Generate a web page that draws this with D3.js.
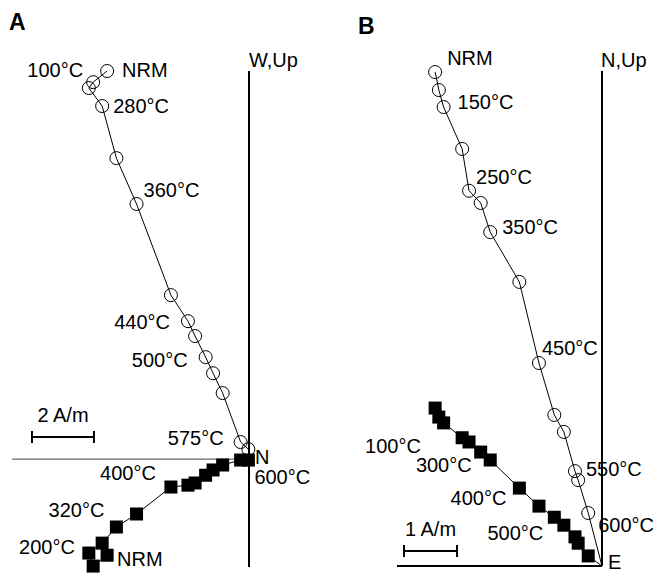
<!DOCTYPE html>
<html>
<head>
<meta charset="utf-8">
<script src="https://cdn.jsdelivr.net/npm/d3@7"></script>
<style>
	body { margin: 0; background: #fff; }
	svg text { font-family: "Liberation Sans", Arial, sans-serif; fill: #000; }
</style>
</head>
<body>
<div id="chart"></div>
<script>
// Demagnetisation steps (blank = step not labelled in the figure)
const stepsA = ["NRM", "100°C", "200°C", "280°C", "320°C", "360°C", "400°C",
	"440°C", "", "500°C", "", "", "575°C", "600°C"];
// Panel A components, A/m
const northA = [-4.58, -5.03, -5.17, -4.74, -4.28, -3.63, -2.52, -1.97, -1.74, -1.40, -1.16, -0.85, -0.27, -0.02];
const westA  = [-3.10, -3.45, -3.03, -2.71, -2.19, -1.77, -0.90, -0.84, -0.77, -0.52, -0.35, -0.19, -0.03, -0.03];
const upA    = [12.52, 12.16, 11.97, 11.39, 9.71, 8.23, 5.29, 4.45, 3.97, 3.29, 2.77, 2.13, 0.55, 0.32];

const stepsB = ["NRM", "100°C", "150°C", "", "250°C", "300°C", "350°C", "400°C",
	"450°C", "500°C", "", "550°C", "", "600°C"];
// Panel B components, A/m
const eastB  = [-3.15, -3.08, -2.99, -2.64, -2.51, -2.29, -2.11, -1.56, -1.19, -0.90, -0.72, -0.51, -0.45, -0.26];
const northB = [2.98, 2.81, 2.70, 2.42, 2.34, 2.15, 2.00, 1.47, 1.13, 0.92, 0.77, 0.55, 0.43, 0.19];
const upB    = [9.32, 8.98, 8.66, 7.87, 7.08, 6.85, 6.30, 5.36, 3.83, 2.85, 2.53, 1.79, 1.62, 1.00];

// Label placement: [step index, projection ("h" squares / "v" circles), anchor, dx, dy]
const labelsA = [
	[0, "v", "start", 15, -1], [1, "v", "end", -10, -12], [3, "v", "start", 11, 0],
	[5, "v", "start", 7, -14], [7, "v", "end", -18, 1], [9, "v", "end", -18, 3],
	[12, "v", "end", -17, -4], [13, "h", "start", 6, 17], [6, "h", "end", -15, -14],
	[4, "h", "end", -12, -17], [2, "h", "end", -14, -6], [0, "h", "start", 10, 4]
];
const labelsB = [
	[0, "v", "start", 12, -14], [2, "v", "start", 14, -5], [4, "v", "start", 7, -14],
	[6, "v", "start", 12, -5], [8, "v", "start", 3, -15], [11, "v", "start", 11, -2],
	[13, "v", "start", 10, 12], [1, "h", "end", -18, 29], [5, "h", "end", -9, 13],
	[7, "h", "end", -13, 10], [9, "h", "end", -11, 16]
];

const width = 655, height = 574;
const svg = d3.select("#chart").append("svg")
	.attr("width", width).attr("height", height);

/*
 - p: panel settings (scales, data, labels, axis names)
*/
function drawPanel(p) {
	const g = svg.append("g");
	const x = d3.scaleLinear(p.domainX, p.rangeX),
		y = d3.scaleLinear(p.domainY, p.rangeY);

	const hData = p.steps.map((s, i) => ({ i, x: p.xs[i], y: p.hs[i] })),
		vData = p.steps.map((s, i) => ({ i, x: p.xs[i], y: p.vs[i] }));

	// Axes (plain lines through the origin)
	g.append("line")
		.attr("x1", x(p.domainX[0])).attr("x2", x(0))
		.attr("y1", y(0)).attr("y2", y(0))
		.attr("stroke", p.hAxisColor).attr("stroke-width", p.hAxisWidth);
	g.append("line")
		.attr("x1", x(0)).attr("x2", x(0))
		.attr("y1", y(p.domainY[0])).attr("y2", y(p.domainY[1]))
		.attr("stroke", "#000").attr("stroke-width", 2);

	const line = d3.line().x((d) => x(d.x)).y((d) => y(d.y));
	const origin = { x: 0, y: 0 };
	[hData, vData].forEach((data) => {
		g.append("path")
			.datum(data.concat([origin]))
			.attr("d", line)
			.attr("fill", "none").attr("stroke", "#000").attr("stroke-width", 1);
	});

	const sq = 13;
	g.selectAll("rect.h").data(hData).join("rect")
		.classed("h", true)
		.attr("x", (d) => x(d.x) - sq / 2).attr("y", (d) => y(d.y) - sq / 2)
		.attr("width", sq).attr("height", sq).attr("fill", "#000");

	g.selectAll("circle.v").data(vData).join("circle")
		.classed("v", true)
		.attr("cx", (d) => x(d.x)).attr("cy", (d) => y(d.y)).attr("r", 6.5)
		.attr("fill", "none").attr("stroke", "#000").attr("stroke-width", 1);

	// Step labels
	g.selectAll("text.step").data(p.labels).join("text")
		.classed("step", true)
		.attr("x", (d) => x(p.xs[d[0]]) + d[3])
		.attr("y", (d) => y((d[1] === "h" ? p.hs : p.vs)[d[0]]) + d[4])
		.attr("dy", "0.35em")
		.attr("text-anchor", (d) => d[2])
		.style("font-size", "20px")
		.text((d) => p.steps[d[0]]);

	// Axis names
	g.append("text")
		.attr("x", x(0) + p.topDx).attr("y", y(p.domainY[1]) - 11)
		.attr("dy", "0.35em").style("font-size", "20px").text(p.topName);
	g.append("text")
		.attr("x", x(0) + 6).attr("y", y(0) + p.endDy)
		.attr("dy", "0.35em").style("font-size", "20px").text(p.endName);

	// Scale bar
	const bx = p.bar[0], by = p.bar[1], bl = x(p.barLen) - x(0);
	const bar = g.append("g").attr("stroke", "#000").attr("stroke-width", 2);
	bar.append("line").attr("x1", bx).attr("x2", bx + bl).attr("y1", by).attr("y2", by);
	bar.append("line").attr("x1", bx).attr("x2", bx).attr("y1", by - 6).attr("y2", by + 6);
	bar.append("line").attr("x1", bx + bl).attr("x2", bx + bl).attr("y1", by - 6).attr("y2", by + 6);
	g.append("text")
		.attr("x", bx + bl / 2).attr("y", by - 22).attr("dy", "0.35em")
		.attr("text-anchor", "middle").style("font-size", "20px")
		.text(`${p.barLen} A/m`);

	// Panel letter
	g.append("text")
		.attr("x", p.letter[0]).attr("y", p.letter[1])
		.style("font-size", "23px").style("font-weight", "bold")
		.text(p.letterText);
}

drawPanel({
	steps: stepsA, xs: northA, hs: westA, vs: upA, labels: labelsA,
	domainX: [-7.65, 0], rangeX: [12, 249],
	domainY: [-3.48, 12.52], rangeY: [567, 71],
	hAxisColor: "#444", hAxisWidth: 1,
	topName: "W,Up", topDx: 0, endName: "N", endDy: -2,
	bar: [32, 437], barLen: 2,
	letter: [9, 30], letterText: "A"
});

drawPanel({
	steps: stepsB, xs: eastB, hs: northB, vs: upB, labels: labelsB,
	domainX: [-3.87, 0], rangeX: [397, 602],
	domainY: [0, 9.34], rangeY: [566, 71],
	hAxisColor: "#000", hAxisWidth: 2,
	topName: "N,Up", topDx: -1, endName: "E", endDy: -4,
	bar: [404, 551], barLen: 1,
	letter: [358, 34], letterText: "B"
});
</script>
</body>
</html>
